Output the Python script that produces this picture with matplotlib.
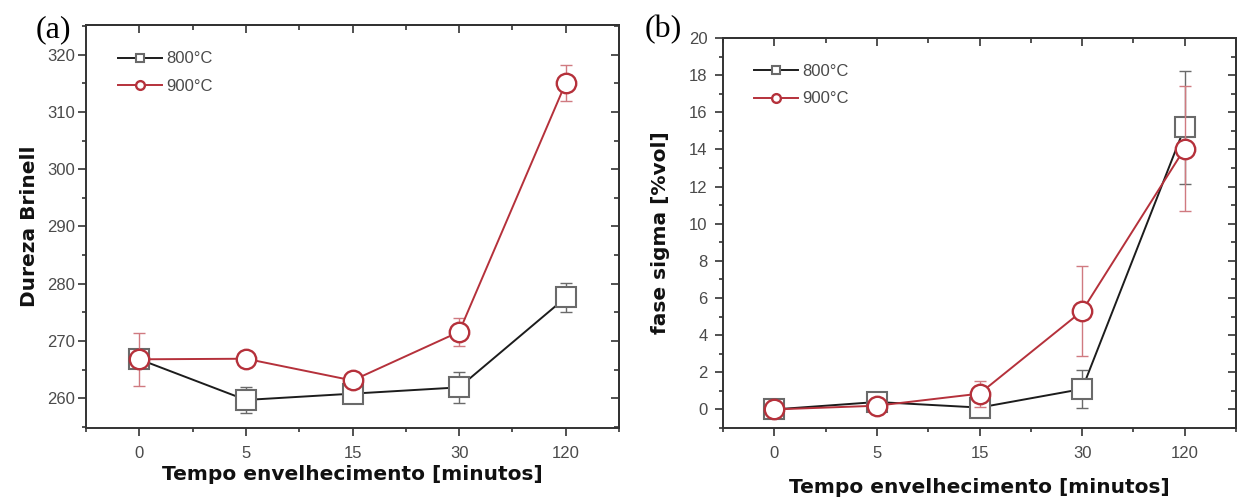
import matplotlib
matplotlib.use('Agg')
import matplotlib.pyplot as plt
from matplotlib.ticker import MultipleLocator

# tempo de envelhecimento (categorias igualmente espaçadas)
times = ['0', '5', '15', '30', '120']

# (a) dureza Brinell
hb_800 = [266.8, 259.7, 260.8, 261.9, 277.6]
hb_800_err = [0.8, 2.2, 1.0, 2.7, 2.5]
hb_900 = [266.8, 266.9, 263.1, 271.6, 315.1]
hb_900_err = [4.6, 0.8, 0.7, 2.5, 3.1]

# (b) fase sigma [%vol]
sigma_800 = [0.0, 0.4, 0.1, 1.1, 15.2]
sigma_800_err = [0.1, 0.3, 0.5, 1.0, 3.05]
sigma_900 = [0.0, 0.2, 0.85, 5.3, 14.05]
sigma_900_err = [0.1, 0.2, 0.7, 2.4, 3.35]

labels = ['800°C', '900°C']

BLACK = '#1c1c1c'
GRAY = '#6a6a6a'
RED = '#b5313b'
PINK = '#d07a80'
TICK_COL = '#4a4a4a'

plt.rcParams['font.family'] = ['Liberation Sans', 'DejaVu Sans']

fig = plt.figure(figsize=(12.37, 5.0), dpi=100)
ax_a = fig.add_axes([0.0695, 0.144, 0.431, 0.806])
ax_b = fig.add_axes([0.5845, 0.144, 0.4147, 0.78])


def draw_panel(ax, y800, e800, y900, e900):
    x = list(range(len(times)))
    ax.errorbar(x, y800, yerr=e800, fmt='none', ecolor=GRAY, elinewidth=1.0,
                capsize=4, capthick=1.0, zorder=2)
    h1, = ax.plot(x, y800, '-', color=BLACK, lw=1.4, marker='s', ms=14,
                  mfc='white', mec=GRAY, mew=1.5, zorder=3)
    ax.errorbar(x, y900, yerr=e900, fmt='none', ecolor=PINK, elinewidth=1.0,
                capsize=4, capthick=1.0, zorder=4)
    h2, = ax.plot(x, y900, '-', color=RED, lw=1.4, marker='o', ms=14,
                  mfc='white', mec=RED, mew=1.7, zorder=5)
    ax.set_xlim(-0.5, 4.5)
    ax.set_xticks(x)
    ax.set_xticklabels(times)
    ax.xaxis.set_minor_locator(MultipleLocator(0.5))
    for s in ax.spines.values():
        s.set_linewidth(1.4)
        s.set_color('#333333')
    ax.tick_params(which='both', direction='out', color='#333333', width=1.2,
                   labelcolor=TICK_COL, labelsize=12)
    ax.tick_params(which='major', length=6)
    ax.tick_params(which='minor', length=3)
    ax.tick_params(axis='x', pad=7)
    # ticks internos em cima e à direita
    top = ax.secondary_xaxis('top')
    top.set_xticks(x)
    top.set_xticklabels([])
    top.xaxis.set_minor_locator(MultipleLocator(0.5))
    top.tick_params(which='both', direction='in', color='#333333', width=1.2)
    top.tick_params(which='major', length=6)
    top.tick_params(which='minor', length=3.5)
    right = ax.secondary_yaxis('right')
    right.tick_params(which='both', direction='in', color='#333333', width=1.2,
                      labelright=False)
    right.tick_params(which='major', length=6)
    right.tick_params(which='minor', length=3.5)
    for sec in (top, right):
        for s in sec.spines.values():
            s.set_linewidth(1.4)
            s.set_color('#333333')
    ax.set_xlabel('Tempo envelhecimento [minutos]', fontfamily='DejaVu Sans',
                  fontweight='bold', fontsize=14.5, color='#111111', labelpad=3)
    return h1, h2, right


legend_kw = dict(loc='upper left', frameon=False, markerscale=0.45,
                 handlelength=2.6, handletextpad=0.25, labelspacing=0.75,
                 borderpad=0, fontsize=12, labelcolor=TICK_COL)

h1, h2, right_a = draw_panel(ax_a, hb_800, hb_800_err, hb_900, hb_900_err)
ax_a.set_ylim(254.8, 325.2)
ax_a.yaxis.set_major_locator(MultipleLocator(10))
ax_a.yaxis.set_minor_locator(MultipleLocator(5))
right_a.yaxis.set_major_locator(MultipleLocator(10))
right_a.yaxis.set_minor_locator(MultipleLocator(5))
ax_a.tick_params(axis='y', pad=2)
ax_a.set_ylabel('Dureza Brinell', fontfamily='DejaVu Sans', fontweight='bold',
                fontsize=14.5, color='#111111', labelpad=6)
ax_a.legend([h1, h2], labels, bbox_to_anchor=(0.045, 0.955), **legend_kw)

g1, g2, right_b = draw_panel(ax_b, sigma_800, sigma_800_err, sigma_900, sigma_900_err)
ax_b.set_ylim(-1, 20)
ax_b.yaxis.set_major_locator(MultipleLocator(2))
ax_b.yaxis.set_minor_locator(MultipleLocator(1))
right_b.yaxis.set_major_locator(MultipleLocator(2))
right_b.yaxis.set_minor_locator(MultipleLocator(1))
ax_b.tick_params(axis='y', pad=5)
ax_b.set_ylabel('fase sigma [%vol]', fontfamily='DejaVu Sans', fontweight='bold',
                fontsize=14.5, color='#111111', labelpad=14)
ax_b.xaxis.labelpad = 12
ax_b.legend([g1, g2], labels, bbox_to_anchor=(0.045, 0.955), **legend_kw)

fig.text(0.029, 0.925, '(a)', fontfamily='Liberation Serif', fontsize=23,
         color='black')
fig.text(0.521, 0.925, '(b)', fontfamily='Liberation Serif', fontsize=23,
         color='black')

fig.savefig('out.png', dpi=100, facecolor='white')
